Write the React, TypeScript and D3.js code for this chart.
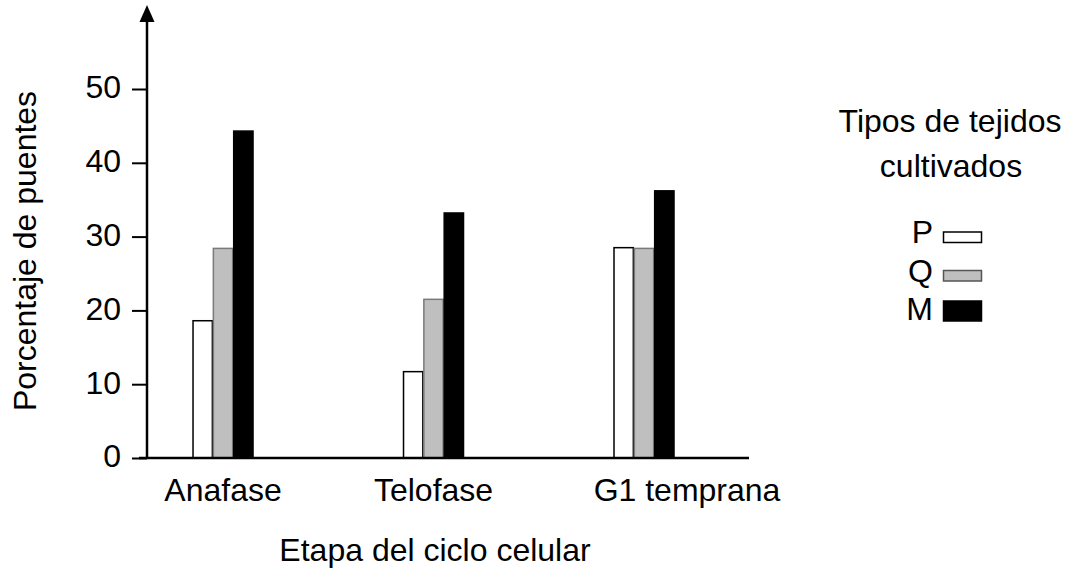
import React, { useRef, useEffect } from "react";
import * as d3 from "d3";

// Etapas del ciclo celular (eje x)
const stages = ["Anafase", "Telofase", "G1 temprana"];
// Tipos de tejidos
const tissues = ["P", "Q", "M"];
// Porcentaje de puentes por tejido, en el orden de stages
const valuesP = [18.6, 11.7, 28.5];
const valuesQ = [28.4, 21.5, 28.4];
const valuesM = [44.3, 33.2, 36.2];
const yTicks = [0, 10, 20, 30, 40, 50];

const FONT = "'Liberation Sans', Arial, Helvetica, sans-serif";
const FONT_SIZE = 32;

const fills: Record<string, string> = { P: "#ffffff", Q: "#bfbfbf", M: "#000000" };
const strokes: Record<string, string> = { P: "#000000", Q: "#7a7a7a", M: "#000000" };

function drawChart(svgEl: SVGSVGElement) {
  const svg = d3.select(svgEl);
  svg.selectAll("*").remove();

  const axisX = 147;
  const axisY = 458;
  const xEnd = 749;

  const y = d3.scaleLinear().domain([0, 50]).range([axisY, 89]);
  const x = d3
    .scalePoint<string>()
    .domain(stages)
    .range([axisX, xEnd])
    .padding(0.43)
    .align(0.42);
  const inner = d3.scaleBand<string>().domain(tissues).range([-30.5, 30.5]).padding(0);

  const table = stages.map((s, i) => ({
    stage: s,
    P: valuesP[i],
    Q: valuesQ[i],
    M: valuesM[i],
  }));

  // bars
  const groups = svg
    .append("g")
    .selectAll("g")
    .data(table)
    .enter()
    .append("g")
    .attr("transform", (d) => `translate(${x(d.stage)},0)`);

  groups
    .selectAll("rect")
    .data((d) => tissues.map((t) => ({ key: t, value: (d as any)[t] as number })))
    .enter()
    .append("rect")
    .attr("x", (d) => (inner(d.key) as number) + 0.5)
    .attr("y", (d) => y(d.value))
    .attr("width", inner.bandwidth() - 1)
    .attr("height", (d) => axisY - y(d.value))
    .attr("fill", (d) => fills[d.key])
    .attr("stroke", (d) => strokes[d.key])
    .attr("stroke-width", 1.5);

  // y axis with ticks
  const yAxis = svg
    .append("g")
    .attr("transform", `translate(${axisX},0)`)
    .call(
      d3
        .axisLeft(y)
        .tickValues(yTicks)
        .tickSize(15)
        .tickPadding(11)
        .tickFormat(d3.format("d"))
    );
  yAxis.select(".domain").remove();
  yAxis.selectAll(".tick line").attr("stroke", "#000").attr("stroke-width", 2);
  yAxis
    .selectAll(".tick text")
    .attr("fill", "#000")
    .attr("dy", "0.28em")
    .style("font-family", FONT)
    .style("font-size", `${FONT_SIZE}px`);

  // y axis line with arrow
  svg
    .append("line")
    .attr("x1", axisX)
    .attr("x2", axisX)
    .attr("y1", axisY + 1)
    .attr("y2", 20)
    .attr("stroke", "#000")
    .attr("stroke-width", 2.5);
  svg
    .append("path")
    .attr("d", `M${axisX},5 L${axisX - 7.5},22 L${axisX + 7.5},22 Z`)
    .attr("fill", "#000");

  // x axis line
  svg
    .append("line")
    .attr("x1", axisX - 8)
    .attr("x2", xEnd)
    .attr("y1", axisY)
    .attr("y2", axisY)
    .attr("stroke", "#000")
    .attr("stroke-width", 2.5);

  // category labels
  svg
    .append("g")
    .selectAll("text")
    .data(stages)
    .enter()
    .append("text")
    .attr("x", (d) => (x(d) as number) + (d === "G1 temprana" ? 43 : 0))
    .attr("y", 501)
    .attr("text-anchor", "middle")
    .style("font-family", FONT)
    .style("font-size", `${FONT_SIZE}px`)
    .text((d) => d);

  // axis titles
  svg
    .append("text")
    .attr("x", 435)
    .attr("y", 561)
    .attr("text-anchor", "middle")
    .style("font-family", FONT)
    .style("font-size", `${FONT_SIZE}px`)
    .text("Etapa del ciclo celular");

  svg
    .append("text")
    .attr("transform", `translate(36,251) rotate(-90)`)
    .attr("text-anchor", "middle")
    .style("font-family", FONT)
    .style("font-size", `${FONT_SIZE}px`)
    .text("Porcentaje de puentes");

  // legend
  const legend = svg.append("g");
  legend
    .append("text")
    .attr("x", 950)
    .attr("y", 132)
    .attr("text-anchor", "middle")
    .style("font-family", FONT)
    .style("font-size", `${FONT_SIZE}px`)
    .text("Tipos de tejidos");
  legend
    .append("text")
    .attr("x", 951)
    .attr("y", 177)
    .attr("text-anchor", "middle")
    .style("font-family", FONT)
    .style("font-size", `${FONT_SIZE}px`)
    .text("cultivados");

  const rowY = d3.scalePoint<string>().domain(tissues).range([243, 320]);
  const items = legend
    .selectAll("g.item")
    .data(tissues)
    .enter()
    .append("g")
    .attr("class", "item")
    .attr("transform", (d) => `translate(0,${rowY(d)})`);
  items
    .append("text")
    .attr("x", 933)
    .attr("y", 0)
    .attr("text-anchor", "end")
    .style("font-family", FONT)
    .style("font-size", `${FONT_SIZE}px`)
    .text((d) => d);
  items
    .append("rect")
    .attr("x", 943.5)
    .attr("y", (d) => (d === "M" ? -19 : -11))
    .attr("width", 38)
    .attr("height", (d) => (d === "M" ? 20 : 10.5))
    .attr("fill", (d) => fills[d])
    .attr("stroke", (d) => (d === "Q" ? "#555" : "#000"))
    .attr("stroke-width", 1.5);
}

const App: React.FunctionComponent = function () {
  const svgRef = useRef<SVGSVGElement>(null);

  useEffect(() => {
    if (svgRef.current == null) {
      return;
    }
    drawChart(svgRef.current);
  }, []);

  return (
    <svg
      ref={svgRef}
      width={1070}
      height={569}
      style={{ position: "absolute", left: 0, top: 0, background: "#fff" }}
    ></svg>
  );
};

export default App;
